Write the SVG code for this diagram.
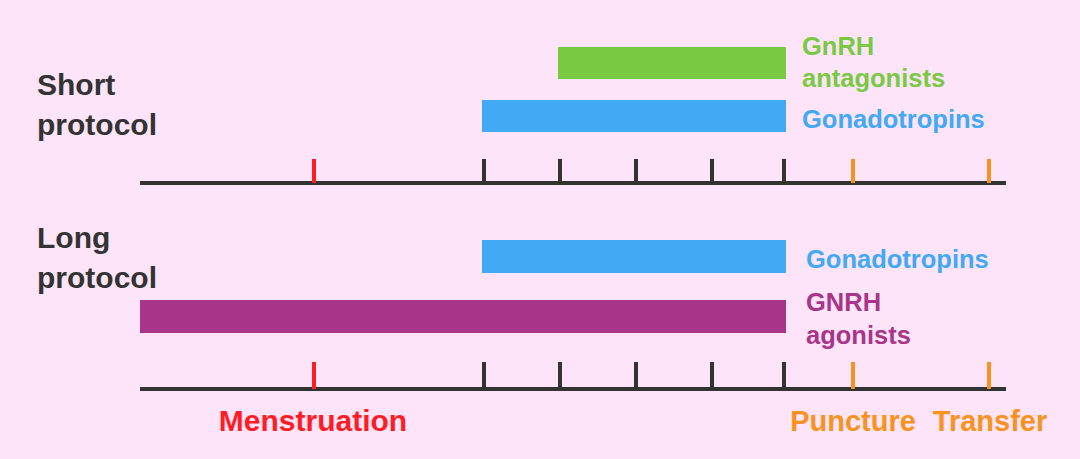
<svg xmlns="http://www.w3.org/2000/svg" width="1080" height="459" viewBox="0 0 1080 459">
<style>
.bg{fill:#FDE4F9}
.lbl{font-family:"Liberation Sans",Arial,sans-serif;font-weight:bold}
.title{font-size:30px;fill:#333333}
.sm{font-size:25.5px}
.ax{font-size:29px;text-anchor:middle}
.axis{stroke:#333333;stroke-width:4;fill:none}
.tk{stroke-width:4}
.dark{stroke:#333333}
.red{stroke:#FF1D25}
.org{stroke:#F7931E}
.green{fill:#7AC943}
.blue{fill:#42A9F5}
.purple{fill:#A83589}
</style>
<rect class="bg" x="0" y="0" width="1080" height="459"/>
<g id="short-protocol-label"><text class="lbl title" x="37" y="95">Short</text><text class="lbl title" x="37" y="135">protocol</text></g>
<g id="long-protocol-label"><text class="lbl title" x="37" y="248">Long</text><text class="lbl title" x="37" y="288">protocol</text></g>
<g id="short-gnrh-antagonists"><rect class="green" x="558" y="47" width="228" height="32"/><text class="lbl sm green" x="802" y="55">GnRH</text><text class="lbl sm green" x="802" y="87">antagonists</text></g>
<g id="short-gonadotropins"><rect class="blue" x="482" y="100" width="304" height="32"/><text class="lbl sm blue" x="802" y="128">Gonadotropins</text></g>
<g id="long-gonadotropins"><rect class="blue" x="482" y="240" width="304" height="33"/><text class="lbl sm blue" x="806" y="268">Gonadotropins</text></g>
<g id="long-gnrh-agonists"><rect class="purple" x="140" y="300" width="646" height="33"/><text class="lbl sm purple" x="806" y="311">GNRH</text><text class="lbl sm purple" x="806" y="344">agonists</text></g>
<g id="connectors">
<line class="axis" x1="140" y1="183" x2="1006" y2="183"/>
<line class="tk red" x1="314" y1="159" x2="314" y2="183"/>
<line class="tk dark" x1="484" y1="159" x2="484" y2="183"/>
<line class="tk dark" x1="560" y1="159" x2="560" y2="183"/>
<line class="tk dark" x1="636" y1="159" x2="636" y2="183"/>
<line class="tk dark" x1="712" y1="159" x2="712" y2="183"/>
<line class="tk dark" x1="784" y1="159" x2="784" y2="183"/>
<line class="tk org" x1="853" y1="159" x2="853" y2="183"/>
<line class="tk org" x1="989" y1="159" x2="989" y2="183"/>
<line class="axis" x1="140" y1="389" x2="1006" y2="389"/>
<line class="tk red" x1="314" y1="362" x2="314" y2="389"/>
<line class="tk dark" x1="484" y1="362" x2="484" y2="389"/>
<line class="tk dark" x1="560" y1="362" x2="560" y2="389"/>
<line class="tk dark" x1="636" y1="362" x2="636" y2="389"/>
<line class="tk dark" x1="712" y1="362" x2="712" y2="389"/>
<line class="tk dark" x1="784" y1="362" x2="784" y2="389"/>
<line class="tk org" x1="853" y1="362" x2="853" y2="389"/>
<line class="tk org" x1="989" y1="362" x2="989" y2="389"/>
</g>
<g id="axis-labels">
<text class="lbl ax" x="313" y="431" fill="#FF1D25" style="font-size:30px">Menstruation</text>
<text class="lbl ax" x="853" y="431" fill="#F7931E">Puncture</text>
<text class="lbl ax" x="990" y="431" fill="#F7931E">Transfer</text>
</g>
</svg>
